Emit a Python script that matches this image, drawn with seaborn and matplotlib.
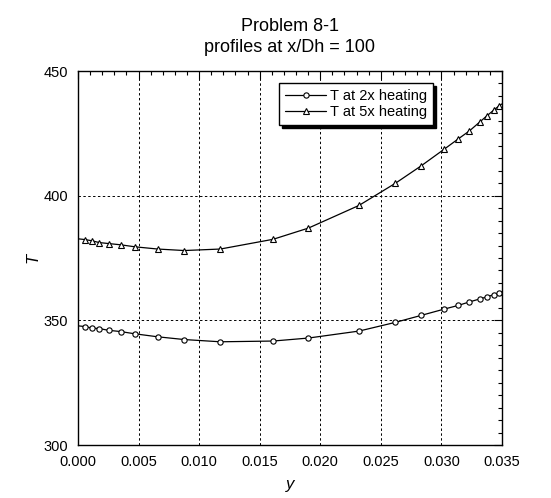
import numpy as np
import pandas as pd
import seaborn as sns
import matplotlib
matplotlib.use("Agg")
import matplotlib.pyplot as plt
from matplotlib.ticker import MultipleLocator, FormatStrFormatter

# marker positions (y, m) and temperatures
y_pos = [0.00058, 0.00116, 0.00175, 0.00253, 0.00352, 0.00469, 0.00658, 0.00877,
         0.01175, 0.01610, 0.01902, 0.02320, 0.02621, 0.02834, 0.03022, 0.03140,
         0.03232, 0.03318, 0.03375, 0.03432, 0.03475]
T_2x = [347.5, 346.9, 346.7, 346.0, 345.5, 344.6, 343.4, 342.3,
        341.4, 341.7, 342.9, 345.7, 349.2, 352.0, 354.5, 356.0,
        357.4, 358.6, 359.4, 360.3, 361.0]
T_5x = [382.4, 381.9, 381.2, 380.8, 380.3, 379.5, 378.6, 378.0,
        378.6, 382.5, 387.0, 396.1, 405.0, 412.0, 418.6, 422.8,
        426.0, 429.6, 432.0, 434.3, 436.0]
# wall values (line ends, no marker)
y_wall = [0.0, 0.035]
T_2x_wall = [347.8, 361.4]
T_5x_wall = [382.7, 436.8]

labels = ["T at 2x heating", "T at 5x heating"]

sns.set_theme(style="white")
plt.rcParams['font.family'] = ['Liberation Sans', 'DejaVu Sans']
plt.rcParams['text.color'] = 'black'
plt.rcParams['axes.labelcolor'] = 'black'

fig = plt.figure(figsize=(5.51, 4.98), dpi=100)
ax = fig.add_axes([0.1416, 0.1064, 0.7694, 0.751])

def series(vals, wall):
    xs = [y_wall[0]] + list(y_pos) + [y_wall[1]]
    ts = [wall[0]] + list(vals) + [wall[1]]
    return pd.DataFrame({"y": xs, "T": ts})

d2 = series(T_2x, T_2x_wall)
d5 = series(T_5x, T_5x_wall)
n = len(d2)
sns.lineplot(data=d2, x="y", y="T", ax=ax, color="black", lw=0.9, marker="o",
             markersize=3.8, markerfacecolor="white", markeredgecolor="black",
             markeredgewidth=0.8, markevery=list(range(1, n - 1)), label=labels[0],
             sort=False)
sns.lineplot(data=d5, x="y", y="T", ax=ax, color="black", lw=0.9, marker="^",
             markersize=4.2, markerfacecolor="white", markeredgecolor="black",
             markeredgewidth=0.8, markevery=list(range(1, n - 1)), label=labels[1],
             sort=False)

ax.set_xlim(0, 0.035)
ax.set_ylim(300, 450)
ax.xaxis.set_major_locator(MultipleLocator(0.005))
ax.xaxis.set_minor_locator(MultipleLocator(0.001))
ax.yaxis.set_major_locator(MultipleLocator(50))
ax.yaxis.set_minor_locator(MultipleLocator(5))
ax.xaxis.set_major_formatter(FormatStrFormatter('%.3f'))
ax.tick_params(which='both', direction='in', top=True, right=True, colors='black',
               labelsize=10.5)
ax.tick_params(which='major', length=6, width=0.8)
ax.tick_params(which='minor', length=3, width=0.8)
ax.tick_params(axis='x', pad=7)
ax.tick_params(axis='y', pad=7)
ax.grid(True, which='major', color='black', linestyle=(0, (2.5, 2.5)), lw=0.7)
for s in ax.spines.values():
    s.set_color('black')
    s.set_linewidth(1.0)

ax.set_xlabel("y", fontsize=12, style='italic', labelpad=6)
ax.set_ylabel("T", fontsize=12, style='italic', labelpad=2)
ax.set_title("Problem 8-1\nprofiles at x/Dh = 100", fontsize=13, pad=14,
             linespacing=1.25, color='black')

leg = ax.legend(loc='upper left', bbox_to_anchor=(0.475, 0.968), fontsize=10.5,
                frameon=True, fancybox=False, edgecolor='black', framealpha=1,
                shadow={'color': 'black', 'alpha': 1, 'ox': 2, 'oy': -2},
                handlelength=2.8, handletextpad=0.3, borderpad=0.4,
                labelspacing=0.15, borderaxespad=0)
leg.get_frame().set_linewidth(1.0)

fig.savefig("out.png", dpi=100)
